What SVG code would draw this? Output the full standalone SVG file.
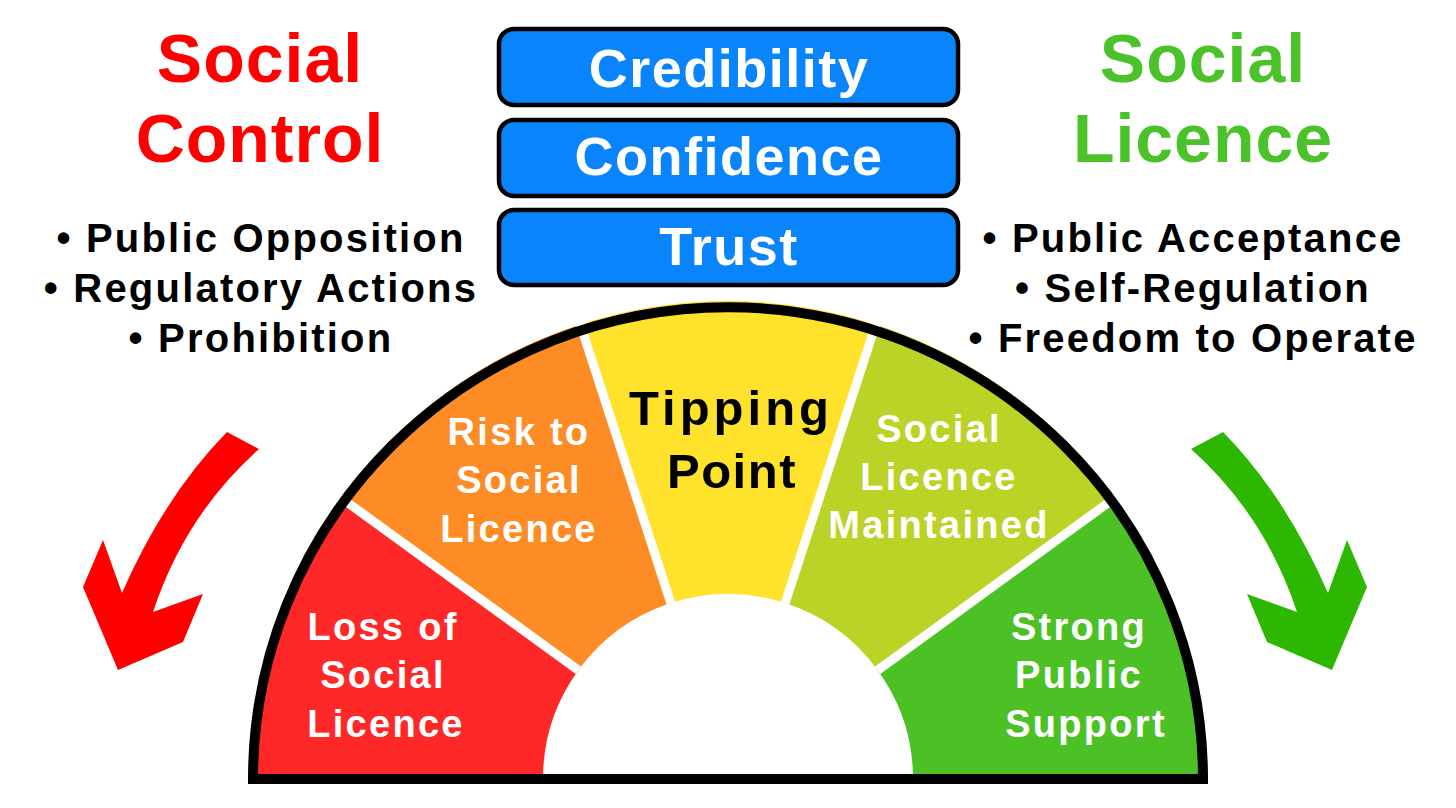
<svg xmlns="http://www.w3.org/2000/svg" width="1456" height="808" viewBox="0 0 1456 808">
<style>
text{font-family:"Liberation Sans",Arial,sans-serif;font-weight:bold;text-anchor:middle}
.title{font-size:68px;letter-spacing:1px}
.red{fill:#FF0000}
.grn{fill:#4CC22A}
.bul{font-size:40px;letter-spacing:2.2px;fill:#000}
.box{fill:#0A84FB;stroke:#000;stroke-width:4.5}
.boxt{font-size:54px;letter-spacing:1.5px;fill:#fff}
.seg{font-size:38px;letter-spacing:2.3px;fill:#fff}
.tip{font-size:49px;fill:#000}
.div{stroke:#fff;stroke-width:9;stroke-linecap:butt}
</style>
<defs>
<path id="arr" d="M 227 432 L 259 449 Q 185 515 153 612 L 203 594 L 183 642 L 118 670 L 83 587 L 103 540 L 122 593 Q 165 495 227 432 Z"/>
</defs>
<rect width="1456" height="808" fill="#fff"/>

<g id="social-control">
<text class="title red" x="260" y="82">Social</text>
<text class="title red" x="260" y="162">Control</text>
<text class="bul" x="261" y="252">• Public Opposition</text>
<text class="bul" x="261" y="302">• Regulatory Actions</text>
<text class="bul" x="261" y="352">• Prohibition</text>
</g>

<g id="social-licence">
<text class="title grn" x="1203" y="82">Social</text>
<text class="title grn" x="1203" y="162">Licence</text>
<text class="bul" x="1193" y="252">• Public Acceptance</text>
<text class="bul" x="1193" y="302">• Self-Regulation</text>
<text class="bul" x="1193" y="352">• Freedom to Operate</text>
</g>

<g id="credibility">
<rect class="box" x="499" y="29" width="459" height="76" rx="15"/>
<text class="boxt" x="729" y="87">Credibility</text>
</g>
<g id="confidence">
<rect class="box" x="499" y="120" width="459" height="76" rx="15"/>
<text class="boxt" x="729" y="175">Confidence</text>
</g>
<g id="trust">
<rect class="box" x="499" y="210" width="459" height="75" rx="15"/>
<text class="boxt" x="729" y="265">Trust</text>
</g>

<g id="gauge">
<g id="seg-loss">
<path d="M 250 779 A 478 478 0 0 1 341.29 498.04 L 578.33 670.26 A 185 185 0 0 0 543 779 Z" fill="#FE2828"/>
<text class="seg" x="383" y="640">Loss of</text>
<text class="seg" x="383" y="688">Social</text>
<text class="seg" x="386" y="737">Licence</text>
</g>
<g id="seg-risk">
<path d="M 341.29 498.04 A 478 478 0 0 1 580.29 324.39 L 670.83 603.05 A 185 185 0 0 0 578.33 670.26 Z" fill="#FD8C27"/>
<text class="seg" x="519" y="445">Risk to</text>
<text class="seg" x="519" y="493">Social</text>
<text class="seg" x="519" y="542">Licence</text>
</g>
<g id="seg-tipping">
<path d="M 580.29 324.39 A 478 478 0 0 1 875.71 324.39 L 785.17 603.05 A 185 185 0 0 0 670.83 603.05 Z" fill="#FEE22C"/>
<text class="tip" x="731" y="425" letter-spacing="4">Tipping</text>
<text class="tip" x="732" y="488" letter-spacing="1.5">Point</text>
</g>
<g id="seg-maintained">
<path d="M 875.71 324.39 A 478 478 0 0 1 1114.71 498.04 L 877.67 670.26 A 185 185 0 0 0 785.17 603.05 Z" fill="#BBD227"/>
<text class="seg" x="939" y="442">Social</text>
<text class="seg" x="939" y="490">Licence</text>
<text class="seg" x="939" y="538">Maintained</text>
</g>
<g id="seg-strong">
<path d="M 1114.71 498.04 A 478 478 0 0 1 1206 779 L 913 779 A 185 185 0 0 0 877.67 670.26 Z" fill="#4CC126"/>
<text class="seg" x="1079" y="640">Strong</text>
<text class="seg" x="1079" y="688">Public</text>
<text class="seg" x="1086" y="737">Support</text>
</g>
</g>

<g id="connectors">
<line class="div" x1="578.33" y1="670.26" x2="341.29" y2="498.04"/>
<line class="div" x1="670.83" y1="603.05" x2="580.29" y2="324.39"/>
<line class="div" x1="785.17" y1="603.05" x2="875.71" y2="324.39"/>
<line class="div" x1="877.67" y1="670.26" x2="1114.71" y2="498.04"/>
<path d="M 253 779 A 475 472 0 0 1 1203 779 Z" fill="none" stroke="#000" stroke-width="10" stroke-linejoin="miter"/>
<use href="#arr" fill="#FF0000"/>
<use href="#arr" fill="#2DB700" transform="matrix(-1 0 0 1 1450 0)"/>
</g>
</svg>
